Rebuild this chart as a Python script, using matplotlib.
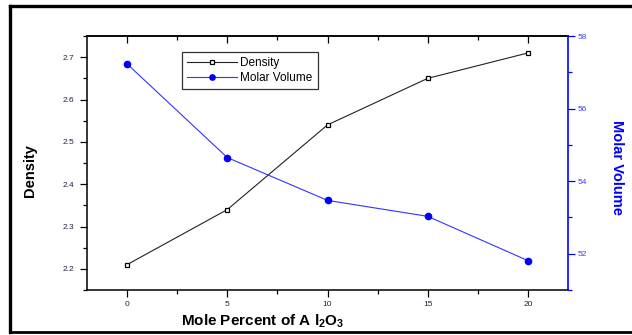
import matplotlib
matplotlib.use("Agg")
import matplotlib.pyplot as plt
from matplotlib.lines import Line2D
from matplotlib.ticker import MultipleLocator

plt.rcParams['font.family'] = ['Liberation Sans', 'DejaVu Sans']
plt.rcParams['mathtext.fontset'] = 'custom'
plt.rcParams['mathtext.rm'] = 'Liberation Sans'
plt.rcParams['mathtext.bf'] = 'Liberation Sans:bold'

# data
mole_percent = [0, 5, 10, 15, 20]
density = [2.21, 2.34, 2.54, 2.65, 2.71]
molar_volume = [57.23, 54.65, 53.47, 53.03, 51.81]

fig = plt.figure(figsize=(6.32, 3.35), dpi=100)
ax = fig.add_axes([0.1377, 0.1343, 0.761, 0.7582])
ax2 = ax.twinx()

l1, = ax.plot(mole_percent, density, color='#222222', lw=0.8, marker='s',
              markersize=3.4, markerfacecolor='white', markeredgecolor='black',
              markeredgewidth=0.9, label='Density')
l2, = ax2.plot(mole_percent, molar_volume, color='#3333ff', lw=0.8, marker='o',
               markersize=4.5, markerfacecolor='blue', markeredgecolor='blue',
               label='Molar Volume')

ax.set_xlim(-2, 22)
ax.set_ylim(2.15, 2.75)
ax2.set_ylim(51, 58)

ax.xaxis.set_major_locator(MultipleLocator(5))
ax.xaxis.set_minor_locator(MultipleLocator(2.5))
ax.yaxis.set_major_locator(MultipleLocator(0.1))
ax.yaxis.set_minor_locator(MultipleLocator(0.05))
ax2.yaxis.set_major_locator(MultipleLocator(2))
ax2.yaxis.set_minor_locator(MultipleLocator(1))

ax.tick_params(axis='both', which='major', direction='out', length=5, width=0.9,
               labelsize=6, labelcolor='#222244', pad=4)
ax.tick_params(axis='both', which='minor', direction='out', length=3, width=0.9)
ax.tick_params(axis='x', which='major', pad=3)
ax.tick_params(top=False, right=False)

top = ax.secondary_xaxis('top')
top.xaxis.set_major_locator(MultipleLocator(5))
top.xaxis.set_minor_locator(MultipleLocator(2.5))
top.tick_params(which='major', direction='in', length=5, width=0.9, labeltop=False)
top.tick_params(which='minor', direction='in', length=3, width=0.9)
top.spines['top'].set_linewidth(1.1)

ax2.tick_params(axis='y', which='major', direction='out', length=5, width=0.9,
                color='blue', labelsize=6, labelcolor='#4040ff', pad=2)
ax2.tick_params(axis='y', which='minor', direction='out', length=3, width=0.9,
                color='blue')
ax2.spines['right'].set_color('blue')
ax2.spines['right'].set_linewidth(1.2)
for s in ['left', 'bottom', 'top']:
    ax.spines[s].set_linewidth(1.1)
    ax2.spines[s].set_visible(False)
ax.spines['right'].set_visible(False)

ax.legend([l1, l2], ['Density', 'Molar Volume'], loc='upper left',
          bbox_to_anchor=(0.197, 0.937), borderaxespad=0, fontsize=8.5,
          frameon=True, fancybox=False, edgecolor='black', handlelength=4.2,
          borderpad=0.45, labelspacing=0.2, handletextpad=0.3, markerscale=0.85)
ax.get_legend().get_frame().set_linewidth(0.9)

fig.text(0.047, 0.49, 'Density', rotation=90, ha='center', va='center',
         fontsize=10.5, fontweight='bold')
fig.text(0.977, 0.50, 'Molar Volume', rotation=270, ha='center', va='center',
         fontsize=10.5, fontweight='bold', color='blue')
fig.text(0.415, 0.042, r'Mole Percent of A l$_\mathbf{2}$O$_\mathbf{3}$',
         ha='center', va='center', fontsize=11, fontweight='bold')

# black frame round the picture
fig.add_artist(Line2D([0.016, 1.0], [0.982, 0.982], color='black', lw=2.4))
fig.add_artist(Line2D([0.016, 0.016], [0.982, 0.008], color='black', lw=2.4))
fig.add_artist(Line2D([0.016, 1.0], [0.009, 0.009], color='black', lw=2.0))

fig.savefig('out.png', dpi=100)
